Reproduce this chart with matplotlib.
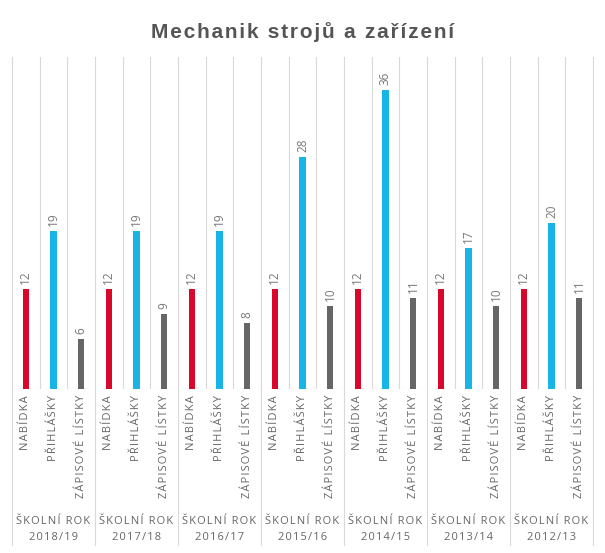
import matplotlib
matplotlib.use("Agg")
import matplotlib.pyplot as plt
import matplotlib.transforms as mtransforms

# data
years = ["2018/19", "2017/18", "2016/17", "2015/16", "2014/15", "2013/14", "2012/13"]
series = ["NABÍDKA", "PŘIHLÁŠKY", "ZÁPISOVÉ LÍSTKY"]
nabidka = [12, 12, 12, 12, 12, 12, 12]
prihlasky = [19, 19, 19, 28, 36, 17, 20]
zapisove = [6, 9, 8, 10, 11, 10, 11]
colors = ["#d9072b", "#19b4e6", "#666666"]

FONT = ["Open Sans", "DejaVu Sans"]
TXT = "#666666"
GRID = "#d9d9d9"


def spaced(s, sep="\u200a"):
    return sep.join(s)


fig = plt.figure(figsize=(6.05, 5.53), dpi=100)
ax = fig.add_axes([12 / 605, 1 - 389 / 553, 581 / 605, 332 / 553])

n = len(years)
values = [nabidka, prihlasky, zapisove]
for g in range(n):
    for k in range(3):
        x = g * 3 + k
        v = values[k][g]
        ax.bar(x, v, width=0.22, color=colors[k], zorder=3)
        ax.text(x, v + 0.6, str(v), rotation=90, ha="center", va="bottom",
                fontsize=8.5, color="#777777", family=FONT)

ax.set_xlim(-0.5, 3 * n - 0.5)
ax.set_ylim(0, 40)
ax.axis("off")

# vertical grid lines, group borders run down through the labels
for i in range(3 * n + 1):
    xb = i - 0.5
    if i % 3 == 0:
        ax.axvline(xb, ymin=-0.47, ymax=1, color=GRID, lw=0.8, clip_on=False, zorder=1)
    else:
        ax.axvline(xb, ymin=0, ymax=1, color=GRID, lw=0.8, zorder=1)
ax.axhline(0, color=GRID, lw=0.8, zorder=2)

trans = mtransforms.blended_transform_factory(ax.transData, fig.transFigure)
for g in range(n):
    for k in range(3):
        ax.text(g * 3 + k, 1 - 395 / 553, spaced(series[k]), rotation=90,
                ha="center", va="top", fontsize=8, color=TXT,
                family=FONT, transform=trans)
    ax.text(g * 3 + 1, 1 - 521 / 553, spaced("ŠKOLNÍ ROK"), ha="center", va="center",
            fontsize=8, color=TXT, family=FONT, transform=trans)
    ax.text(g * 3 + 1, 1 - 538 / 553, spaced(years[g]), ha="center", va="center",
            fontsize=8, color=TXT, family=FONT, transform=trans)

fig.text(0.5, 1 - 32 / 553, spaced("Mechanik strojů a zařízení"),
         ha="center", va="center", fontsize=15, fontweight="bold",
         color="#555555", family=["Liberation Sans", "DejaVu Sans"])

fig.savefig("out.png", dpi=100)
